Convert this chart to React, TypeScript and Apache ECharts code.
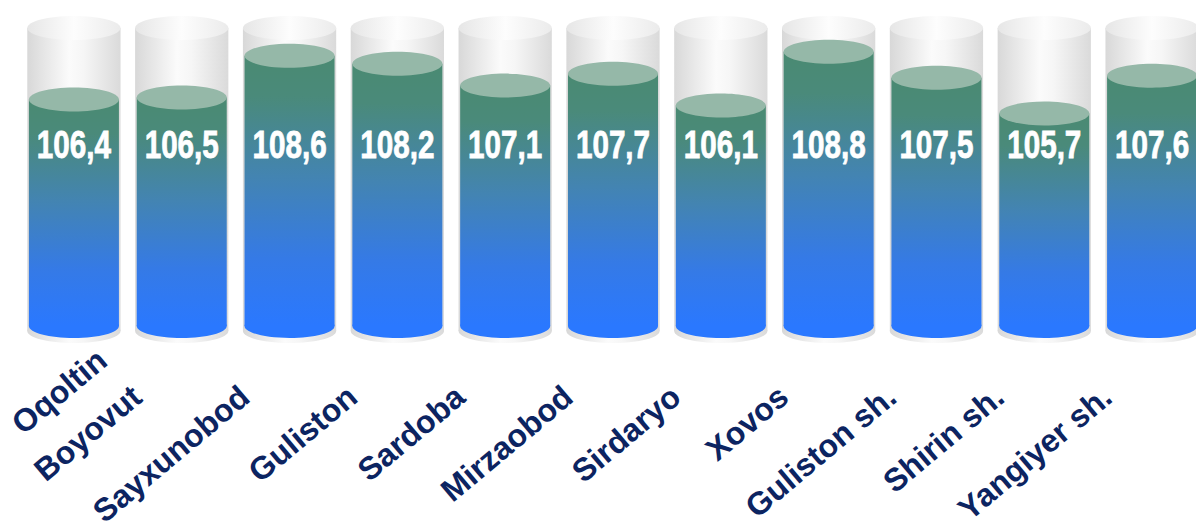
import React, { useEffect, useRef } from "react";
import * as echarts from "echarts";

const CATEGORIES = [
  "Oqoltin",
  "Boyovut",
  "Sayxunobod",
  "Guliston",
  "Sardoba",
  "Mirzaobod",
  "Sirdaryo",
  "Xovos",
  "Guliston sh.",
  "Shirin sh.",
  "Yangiyer sh.",
];
const VALUES = [106.4, 106.5, 108.6, 108.2, 107.1, 107.7, 106.1, 108.8, 107.5, 105.7, 107.6];
const Y_MIN = 95;
const Y_MAX = 110;

const fmt = (v: number) => v.toFixed(1).replace(".", ",");

const CAT_SIZE = 32;
const CAT_FONT = `bold ${CAT_SIZE}px 'Liberation Sans', Arial, sans-serif`;
const VAL_FONT = "bold 38px 'Liberation Sans', Arial, sans-serif";

let measureCtx: CanvasRenderingContext2D | null = null;
const textWidth = (text: string, font: string) => {
  if (!measureCtx) measureCtx = document.createElement("canvas").getContext("2d");
  if (!measureCtx) return text.length * 18;
  measureCtx.font = font;
  return measureCtx.measureText(text).width;
};

export default function App() {
  const ref = useRef<HTMLDivElement>(null);

  useEffect(() => {
    if (!ref.current) return;
    const chart = echarts.init(ref.current, null, { renderer: "svg" });

    const glassGrad = () =>
      new echarts.graphic.LinearGradient(0, 0, 1, 0, [
        { offset: 0, color: "#d8d8d8" },
        { offset: 0.45, color: "#fbfbfb" },
        { offset: 0.6, color: "#f6f6f6" },
        { offset: 1, color: "#dadada" },
      ]);
    const glassTopGrad = () =>
      new echarts.graphic.LinearGradient(0, 0, 1, 0, [
        { offset: 0, color: "#e6e6e6" },
        { offset: 0.5, color: "#fdfdfd" },
        { offset: 1, color: "#ebebeb" },
      ]);
    const fillGrad = () =>
      new echarts.graphic.LinearGradient(0, 0, 0, 1, [
        { offset: 0, color: "#4a8a72" },
        { offset: 0.15, color: "#4a8a7a" },
        { offset: 0.45, color: "#4384b2" },
        { offset: 0.75, color: "#357ae6" },
        { offset: 1, color: "#2a78ff" },
      ]);

    const renderItem = (params: any, api: any) => {
      const i = api.value(0);
      const v = api.value(1);
      const top = api.coord([i, v]);
      const base = api.coord([i, Y_MIN]);
      const cap = api.coord([i, Y_MAX]);
      const band = api.size([1, 0])[0];
      const w = band * 0.835;
      const gw = band * 0.865;
      const cx = top[0];
      const ry = 12;
      const theta = (40 * Math.PI) / 180;
      const catW = textWidth(CATEGORIES[i], CAT_FONT);
      const minAnchor = 6 + catW * Math.cos(theta) + (CAT_SIZE / 2) * Math.sin(theta);
      const natural = cx - 45;
      const shift = Math.max(0, minAnchor - natural);
      const catX = natural + shift;
      const catY = base[1] + 66 - shift * 0.5;
      return {
        type: "group",
        children: [
          {
            type: "ellipse",
            shape: { cx, cy: base[1] + 5, rx: gw / 2, ry },
            style: { fill: glassGrad() },
          },
          {
            type: "rect",
            shape: { x: cx - gw / 2, y: cap[1], width: gw, height: base[1] + 5 - cap[1] },
            style: { fill: glassGrad() },
          },
          {
            type: "ellipse",
            shape: { cx, cy: cap[1], rx: gw / 2, ry },
            style: { fill: glassTopGrad() },
          },
          {
            type: "ellipse",
            shape: { cx, cy: base[1], rx: w / 2, ry },
            style: { fill: "#2a78ff" },
          },
          {
            type: "rect",
            shape: { x: cx - w / 2, y: top[1], width: w, height: base[1] - top[1] },
            style: { fill: fillGrad() },
          },
          {
            type: "ellipse",
            shape: { cx, cy: top[1], rx: w / 2, ry },
            style: { fill: "#95b8a8" },
          },
          {
            type: "text",
            x: cx,
            y: base[1] - 181,
            scaleX: 0.78,
            style: {
              text: fmt(v),
              fill: "#ffffff",
              stroke: "#ffffff",
              lineWidth: 0.8,
              font: VAL_FONT,
              align: "center",
              verticalAlign: "middle",
            },
          },
          {
            type: "text",
            x: catX,
            y: catY,
            rotation: theta,
            style: {
              text: CATEGORIES[i],
              fill: "#0c2461",
              font: CAT_FONT,
              align: "right",
              verticalAlign: "middle",
            },
          },
        ],
      };
    };

    chart.setOption({
      animation: false,
      backgroundColor: "#ffffff",
      grid: { left: 20, top: 28, width: 1186, bottom: 205, containLabel: false, outerBoundsMode: "none" },
      xAxis: { type: "category", data: CATEGORIES, show: false, boundaryGap: true },
      yAxis: { type: "value", min: Y_MIN, max: Y_MAX, show: false },
      series: [
        {
          type: "custom",
          renderItem,
          clip: false,
          data: VALUES.map((v, i) => [i, v]),
          encode: { x: 0, y: 1 },
        },
      ],
    });

    return () => chart.dispose();
  }, []);

  return (
    <div
      ref={ref}
      style={{ position: "fixed", left: 0, top: 0, width: 1196, height: 531, background: "#fff" }}
    />
  );
}
